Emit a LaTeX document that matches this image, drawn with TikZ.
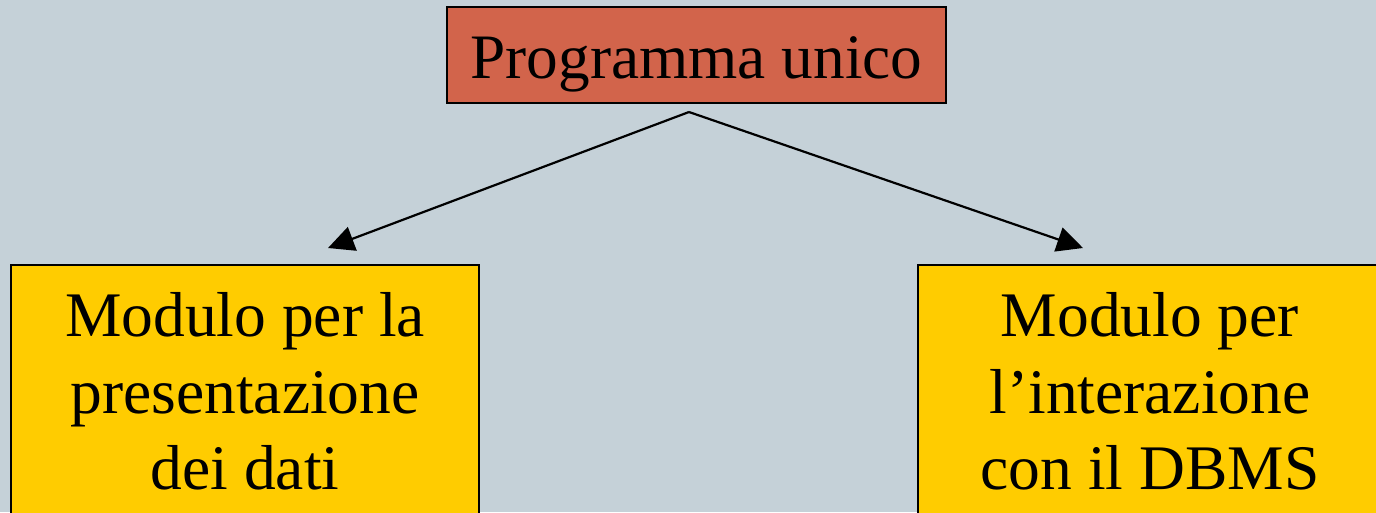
\documentclass[tikz,border=0pt]{standalone}
\usepackage{fontspec}
\setmainfont{Liberation Serif}
\usetikzlibrary{arrows.meta}
\definecolor{bgcol}{HTML}{C5D1D8}
\definecolor{topfill}{HTML}{D2644B}
\definecolor{modfill}{HTML}{FFCC00}
\tikzset{
  topbox/.style={draw=black, line width=2.2pt, fill=topfill, inner sep=0pt,
    minimum width=499pt, minimum height=96pt,
    font=\fontsize{63.3}{70}\selectfont, text height=47pt, text depth=0pt},
  modbox/.style={draw=black, line width=2pt, fill=modfill, inner sep=0pt,
    minimum height=267pt, align=center,
    font=\fontsize{63.5}{76.5}\selectfont, text height=196pt, text depth=14pt},
  arr/.style={line width=2.2pt, -{Triangle[length=26pt,width=25pt]}}
}
\begin{document}
\begin{tikzpicture}[x=1pt,y=-1pt]
\fill[bgcol] (0,0) rectangle (1376,512);
\useasboundingbox (0,0) rectangle (1376,512);
\node[topbox] (top) at (696.5,55) {Programma unico};
\node[modbox, minimum width=468pt, anchor=north] (left) at (245,264)
  {Modulo per la\\presentazione\\dei dati};
\node[modbox, minimum width=464pt, anchor=north] (right) at (1150,264)
  {Modulo per\\l’interazione\\con il DBMS};
\coordinate (split) at (689,112);
\coordinate (ltip) at (328,248);
\coordinate (rtip) at (1083,248);
\draw[arr] (split) -- (ltip);
\draw[arr] (split) -- (rtip);
\end{tikzpicture}
\end{document}
